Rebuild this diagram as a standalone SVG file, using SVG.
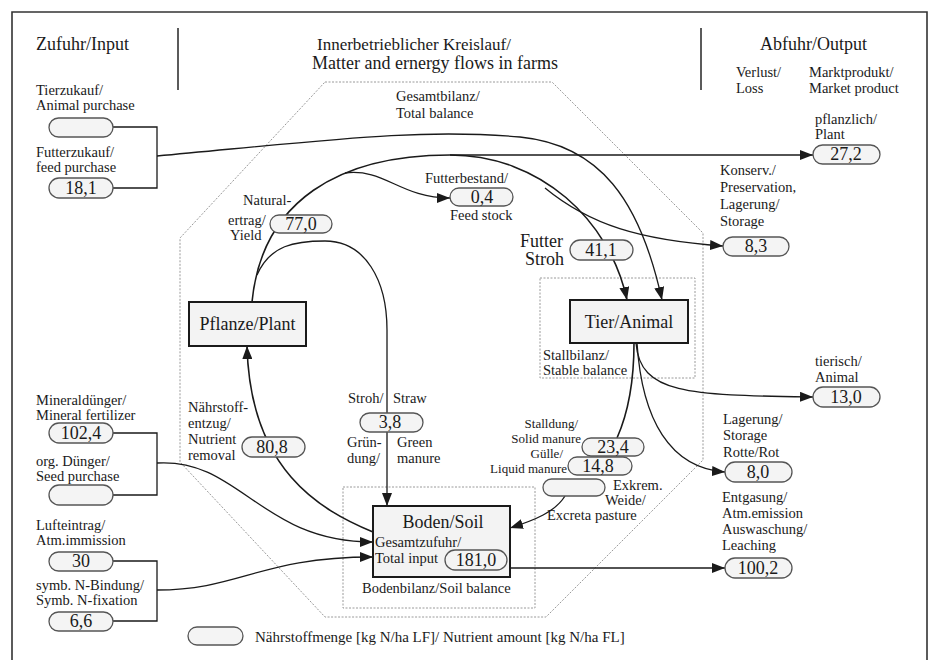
<svg xmlns="http://www.w3.org/2000/svg" width="933" height="660" viewBox="0 0 933 660">
<style>
text{font-family:"Liberation Serif","Times New Roman",serif;fill:#1a1a1a}
.h{font-size:18px}
.s{font-size:14.5px}
.m{font-size:13px}
.n{font-size:18px;text-anchor:middle}
.e{text-anchor:end}
.pill{fill:#f4f4f4;stroke:#555;stroke-width:1.3}
.box{fill:#f3f3f3;stroke:#1a1a1a;stroke-width:2}
.dot{fill:none;stroke:#9a9a9a;stroke-width:1;stroke-dasharray:2 1.5}
.c{fill:none;stroke:#1a1a1a;stroke-width:1.6}
.t{fill:none;stroke:#1a1a1a;stroke-width:1.3}
.a{marker-end:url(#ah)}
</style>
<defs>
<marker id="ah" markerUnits="userSpaceOnUse" markerWidth="14" markerHeight="10" refX="13" refY="5" orient="auto">
<path d="M0,0 L13,5 L0,10 z" fill="#1a1a1a"/>
</marker>
</defs>
<rect width="933" height="660" fill="#fff"/>
<g id="frame">
<path d="M12,665 V12 H927 V665" fill="none" stroke="#333" stroke-width="1.6"/>
<path d="M178,28 V90 M701,28 V90" stroke="#333" stroke-width="1.6"/>
<text class="h" x="36" y="50">Zufuhr/Input</text>
<text class="h" x="317" y="50" style="font-size:17px">Innerbetrieblicher Kreislauf/</text>
<text class="h" x="312" y="69">Matter and ernergy flows in farms</text>
<text class="h" x="760" y="50">Abfuhr/Output</text>
<text class="s" x="736" y="77">Verlust/</text>
<text class="s" x="736" y="93">Loss</text>
<text class="s" x="809" y="77">Marktprodukt/</text>
<text class="s" x="809" y="93">Market product</text>
</g>
<g id="balances">
<path class="dot" d="M325,82 L552,82 L703,233 L703,460 L546,617 L325,617 L180,462 L180,238 Z"/>
<text class="s" x="396" y="101">Gesamtbilanz/</text>
<text class="s" x="396" y="118">Total balance</text>
<rect class="dot" x="540" y="278" width="155" height="100"/>
<text class="s" x="543" y="360">Stallbilanz/</text>
<text class="s" x="543" y="375">Stable balance</text>
<rect class="dot" x="343" y="487" width="192" height="121"/>
<text class="s" x="362" y="593">Bodenbilanz/Soil balance</text>
</g>
<g id="connectors">
<path class="t" d="M113,127 H157 V188 H113"/>
<path class="t" d="M113,433 H157 V495 H113"/>
<path class="t" d="M113,561 H157 V621 H113"/>
<path class="t a" d="M157,156 C330,140 420,128 520,137 C600,145 640,200 662,300"/>
<path class="c a" d="M252,302 C262,200 340,155 450,155 C540,155 610,220 627,300"/>
<path class="t a" d="M450,155 L813,155"/>
<path class="t a" d="M345,173 C385,168 400,198 450,198"/>
<path class="t a" d="M545,188 C590,225 640,240 723,246"/>
<path class="t a" d="M257,275 C270,245 295,241 325,241 C365,241 387,280 387,330 L387,506"/>
<path class="c a" d="M373,532 C320,510 250,470 247,346"/>
<path class="t a" d="M157,463 C240,458 260,542 373,542"/>
<path class="t a" d="M157,590 C240,590 260,557 373,557"/>
<path class="t a" d="M636,343 C640,395 690,395 813,397"/>
<path class="c" d="M634,343 C634,390 625,420 617,438"/>
<path class="t a" d="M637,343 C642,420 670,468 725,472"/>
<path class="t a" d="M565,496 C555,512 535,520 510,528"/>
<path class="t a" d="M510,568 L725,568"/>
</g>
<g id="pflanze">
<rect class="box" x="189" y="302" width="117" height="44"/>
<text class="n" x="247.5" y="330">Pflanze/Plant</text>
</g>
<g id="tier">
<rect class="box" x="570" y="300" width="118" height="43"/>
<text class="n" x="629" y="328">Tier/Animal</text>
</g>
<g id="boden">
<rect class="box" x="373" y="506" width="137" height="71"/>
<text class="n" x="443" y="528">Boden/Soil</text>
<text class="s" x="375" y="547">Gesamtzufuhr/</text>
<text class="s" x="375" y="563">Total input</text>
</g>
<g id="p-181">
<rect class="pill" x="445" y="550" width="62" height="20" rx="10"/>
<text class="n" x="476" y="566">181,0</text>
</g>
<g id="p-tierzukauf">
<text class="s" x="36" y="95">Tierzukauf/</text>
<text class="s" x="36" y="110">Animal purchase</text>
<rect class="pill" x="49" y="118" width="64" height="19" rx="9.5"/>
</g>
<g id="p-futterzukauf">
<text class="s" x="36" y="157">Futterzukauf/</text>
<text class="s" x="36" y="172">feed purchase</text>
<rect class="pill" x="49" y="178" width="64" height="20" rx="10"/>
<text class="n" x="81" y="194">18,1</text>
</g>
<g id="p-mineral">
<text class="s" x="36" y="405">Mineraldünger/</text>
<text class="s" x="36" y="420">Mineral fertilizer</text>
<rect class="pill" x="49" y="423" width="64" height="20" rx="10"/>
<text class="n" x="81" y="439">102,4</text>
</g>
<g id="p-org">
<text class="s" x="36" y="466">org. Dünger/</text>
<text class="s" x="36" y="481">Seed purchase</text>
<rect class="pill" x="49" y="485" width="64" height="20" rx="10"/>
</g>
<g id="p-luft">
<text class="s" x="36" y="530">Lufteintrag/</text>
<text class="s" x="36" y="545">Atm.immission</text>
<rect class="pill" x="49" y="552" width="64" height="19" rx="9.5"/>
<text class="n" x="81" y="567">30</text>
</g>
<g id="p-symb">
<text class="s" x="36" y="590">symb. N-Bindung/</text>
<text class="s" x="36" y="605">Symb. N-fixation</text>
<rect class="pill" x="49" y="612" width="64" height="19" rx="9.5"/>
<text class="n" x="81" y="627">6,6</text>
</g>
<g id="p-yield">
<text class="s" x="243" y="205">Natural-</text>
<text class="s" x="228" y="225">ertrag/</text>
<text class="s" x="230" y="240">Yield</text>
<rect class="pill" x="270" y="215" width="62" height="18" rx="9"/>
<text class="n" x="301" y="230">77,0</text>
</g>
<g id="p-feedstock">
<text class="s" x="425" y="183">Futterbestand/</text>
<rect class="pill" x="450" y="188" width="63" height="18" rx="9"/>
<text class="n" x="482" y="203">0,4</text>
<text class="s" x="450" y="220">Feed stock</text>
</g>
<g id="p-futter">
<text class="h" x="520" y="247">Futter</text>
<text class="h" x="525" y="265">Stroh</text>
<rect class="pill" x="570" y="240" width="63" height="20" rx="10"/>
<text class="n" x="601" y="256">41,1</text>
</g>
<g id="p-plant">
<text class="s" x="815" y="124">pflanzlich/</text>
<text class="s" x="815" y="139">Plant</text>
<rect class="pill" x="813" y="145" width="67" height="19" rx="9.5"/>
<text class="n" x="846" y="160">27,2</text>
</g>
<g id="p-konserv">
<text class="s" x="720" y="175">Konserv./</text>
<text class="s" x="720" y="192">Preservation,</text>
<text class="s" x="720" y="209">Lagerung/</text>
<text class="s" x="720" y="226">Storage</text>
<rect class="pill" x="723" y="237" width="66" height="19" rx="9.5"/>
<text class="n" x="756" y="252">8,3</text>
</g>
<g id="p-straw">
<text class="s" x="348" y="403">Stroh/</text>
<text class="s" x="393" y="403">Straw</text>
<rect class="pill" x="360" y="413" width="63" height="19" rx="9.5"/>
<text class="n" x="390" y="428">3,8</text>
<text class="s" x="347" y="447">Grün-</text>
<text class="s" x="397" y="447">Green</text>
<text class="s" x="347" y="463">dung/</text>
<text class="s" x="397" y="463">manure</text>
</g>
<g id="p-removal">
<text class="s" x="188" y="412">Nährstoff-</text>
<text class="s" x="188" y="428">entzug/</text>
<text class="s" x="188" y="444">Nutrient</text>
<text class="s" x="188" y="460">removal</text>
<rect class="pill" x="242" y="437" width="63" height="20" rx="10"/>
<text class="n" x="272" y="453">80,8</text>
</g>
<g id="p-solid">
<text class="m e" x="578" y="428">Stalldung/</text>
<text class="m e" x="581" y="443">Solid manure</text>
<rect class="pill" x="582" y="438" width="62" height="18" rx="9"/>
<text class="n" x="613" y="453">23,4</text>
</g>
<g id="p-liquid">
<text class="m e" x="563" y="458">Gülle/</text>
<text class="m e" x="567" y="473">Liquid manure</text>
<rect class="pill" x="568" y="457" width="64" height="18" rx="9"/>
<text class="n" x="598" y="472">14,8</text>
</g>
<g id="p-excreta">
<rect class="pill" x="543" y="479" width="62" height="17" rx="8.5"/>
<text class="s" x="613" y="490">Exkrem.</text>
<text class="s" x="605" y="505">Weide/</text>
<text class="s" x="547" y="520">Excreta pasture</text>
</g>
<g id="p-animal">
<text class="s" x="815" y="366">tierisch/</text>
<text class="s" x="815" y="382">Animal</text>
<rect class="pill" x="813" y="387" width="67" height="20" rx="10"/>
<text class="n" x="846" y="403">13,0</text>
</g>
<g id="p-rotte">
<text class="s" x="723" y="424">Lagerung/</text>
<text class="s" x="723" y="440">Storage</text>
<text class="s" x="723" y="457">Rotte/Rot</text>
<rect class="pill" x="725" y="462" width="67" height="20" rx="10"/>
<text class="n" x="758" y="478">8,0</text>
</g>
<g id="p-leaching">
<text class="s" x="722" y="502">Entgasung/</text>
<text class="s" x="722" y="518">Atm.emission</text>
<text class="s" x="722" y="534">Auswaschung/</text>
<text class="s" x="722" y="550">Leaching</text>
<rect class="pill" x="725" y="558" width="67" height="20" rx="10"/>
<text class="n" x="758" y="574">100,2</text>
</g>
<g id="legend">
<rect class="pill" x="188" y="627" width="55" height="18" rx="9"/>
<text class="s" x="255" y="642" style="font-size:15px">Nährstoffmenge [kg N/ha LF]/ Nutrient amount [kg N/ha FL]</text>
</g>
</svg>
